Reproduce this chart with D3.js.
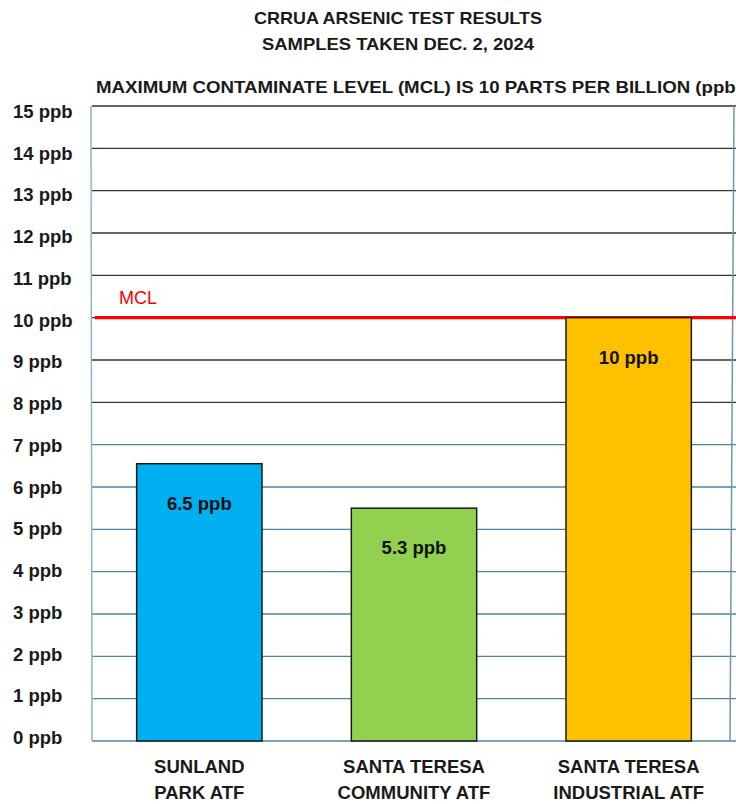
<!DOCTYPE html>
<html lang="en">
<head>
    <meta charset="UTF-8">
    <title>CRRUA Arsenic Test Results</title>
    <script src="https://cdnjs.cloudflare.com/ajax/libs/d3/7.8.5/d3.min.js"></script>
    <style>
        body { margin: 0; background: #ffffff; overflow: hidden; }
        .title { font-family: "Liberation Sans", Arial, sans-serif; font-weight: 700; font-size: 17px; fill: #1a1a1a; }
        .tick-label { font-family: "Liberation Sans", Arial, sans-serif; font-weight: 700; font-size: 18.5px; fill: #1a1a1a; }
        .bar { stroke: #1a1a1a; stroke-width: 1.5; }
        .value-label { font-family: "Liberation Sans", Arial, sans-serif; font-weight: 700; font-size: 18.5px; fill: #111; }
        .cat-label { font-family: "Liberation Sans", Arial, sans-serif; font-weight: 700; font-size: 18.5px; fill: #1a1a1a; }
    </style>
</head>
<body>
<div id="chart"></div>
<script>
    const width = 736, height = 804;

    // data
    const categories = [["SUNLAND", "PARK ATF"], ["SANTA TERESA", "COMMUNITY ATF"], ["SANTA TERESA", "INDUSTRIAL ATF"]];
    const values = [6.5, 5.3, 10];          // as printed on the bars
    const drawnHeights = [6.55, 5.5, 10];   // bar tops as they sit in the picture
    const barColors = ["#00b0f0", "#92d050", "#ffc000"];
    const yTicks = [0, 1, 2, 3, 4, 5, 6, 7, 8, 9, 10, 11, 12, 13, 14, 15];
    const mcl = 10;
    const titleLines = ["CRRUA ARSENIC TEST RESULTS", "SAMPLES TAKEN DEC. 2, 2024"];
    const subtitle = "MAXIMUM CONTAMINATE LEVEL (MCL) IS 10 PARTS PER BILLION (ppb)";

    const plotLeft = 92, plotRight = 736, plotTop = 106, plotBottom = 741;

    const svg = d3.select("#chart").append("svg")
        .attr("width", width)
        .attr("height", height)
        .style("display", "block");

    const y = d3.scaleLinear().domain([0, 15]).range([plotBottom, plotTop]);
    // tick labels sit a touch off the lines in the original
    const yLabel = d3.scaleLinear().domain([0, 15]).range([744, 118]);
    const x = d3.scaleBand()
        .domain(d3.range(categories.length))
        .range([plotLeft, plotRight])
        .paddingInner(0.416)
        .paddingOuter(0.208);

    // titles
    svg.selectAll(".title-line")
        .data(titleLines)
        .enter().append("text")
        .attr("class", "title")
        .attr("x", 398)
        .attr("y", (d, i) => 24 + i * 26)
        .attr("text-anchor", "middle")
        .attr("textLength", (d, i) => i === 0 ? 288 : 272)
        .attr("lengthAdjust", "spacingAndGlyphs")
        .text(d => d);

    svg.append("text")
        .attr("class", "title")
        .attr("x", 96)
        .attr("y", 93)
        .attr("textLength", 646)
        .attr("lengthAdjust", "spacingAndGlyphs")
        .text(subtitle);

    // grid lines
    svg.selectAll(".grid")
        .data(yTicks)
        .enter().append("line")
        .attr("x1", plotLeft)
        .attr("x2", plotRight)
        .attr("y1", d => y(d))
        .attr("y2", d => y(d))
        .attr("stroke", d => d >= 8 ? "#333333" : "#4f84a3")
        .attr("stroke-width", 1.4);

    // frame
    svg.append("line")
        .attr("x1", 91).attr("x2", 92)
        .attr("y1", y(15)).attr("y2", y(0))
        .attr("stroke", "#8db4cc").attr("stroke-width", 1.5);
    svg.append("line")
        .attr("x1", 734).attr("x2", 730)
        .attr("y1", y(15)).attr("y2", y(0))
        .attr("stroke", "#6b97b3").attr("stroke-width", 1.5);

    // y labels
    svg.selectAll(".tick-label")
        .data(yTicks)
        .enter().append("text")
        .attr("class", "tick-label")
        .attr("x", 13)
        .attr("y", d => yLabel(d))
        .text(d => d + " ppb");

    // MCL line
    svg.append("line")
        .attr("x1", 95)
        .attr("x2", plotRight)
        .attr("y1", y(mcl))
        .attr("y2", y(mcl))
        .attr("stroke", "#ff0000")
        .attr("stroke-width", 3.2);

    svg.append("text")
        .attr("x", 119)
        .attr("y", y(mcl) - 14)
        .attr("fill", "#ff0000")
        .attr("font-family", "Liberation Sans, Arial, sans-serif")
        .attr("font-size", 18)
        .text("MCL");

    // bars
    svg.selectAll(".bar")
        .data(drawnHeights)
        .enter().append("rect")
        .attr("class", "bar")
        .attr("x", (d, i) => x(i))
        .attr("y", d => y(d))
        .attr("width", x.bandwidth())
        .attr("height", d => y(0) - y(d))
        .attr("fill", (d, i) => barColors[i]);

    svg.selectAll(".value-label")
        .data(values)
        .enter().append("text")
        .attr("class", "value-label")
        .attr("x", (d, i) => x(i) + x.bandwidth() / 2)
        .attr("y", (d, i) => y(drawnHeights[i]) + 46)
        .attr("text-anchor", "middle")
        .text(d => d + " ppb");

    // category labels
    categories.forEach((lines, i) => {
        svg.append("text")
            .attr("class", "cat-label")
            .attr("x", x(i) + x.bandwidth() / 2)
            .attr("y", 773)
            .attr("text-anchor", "middle")
            .selectAll("tspan")
            .data(lines)
            .enter().append("tspan")
            .attr("x", x(i) + x.bandwidth() / 2)
            .attr("dy", (d, j) => j === 0 ? 0 : 26)
            .text(d => d);
    });
</script>
</body>
</html>
